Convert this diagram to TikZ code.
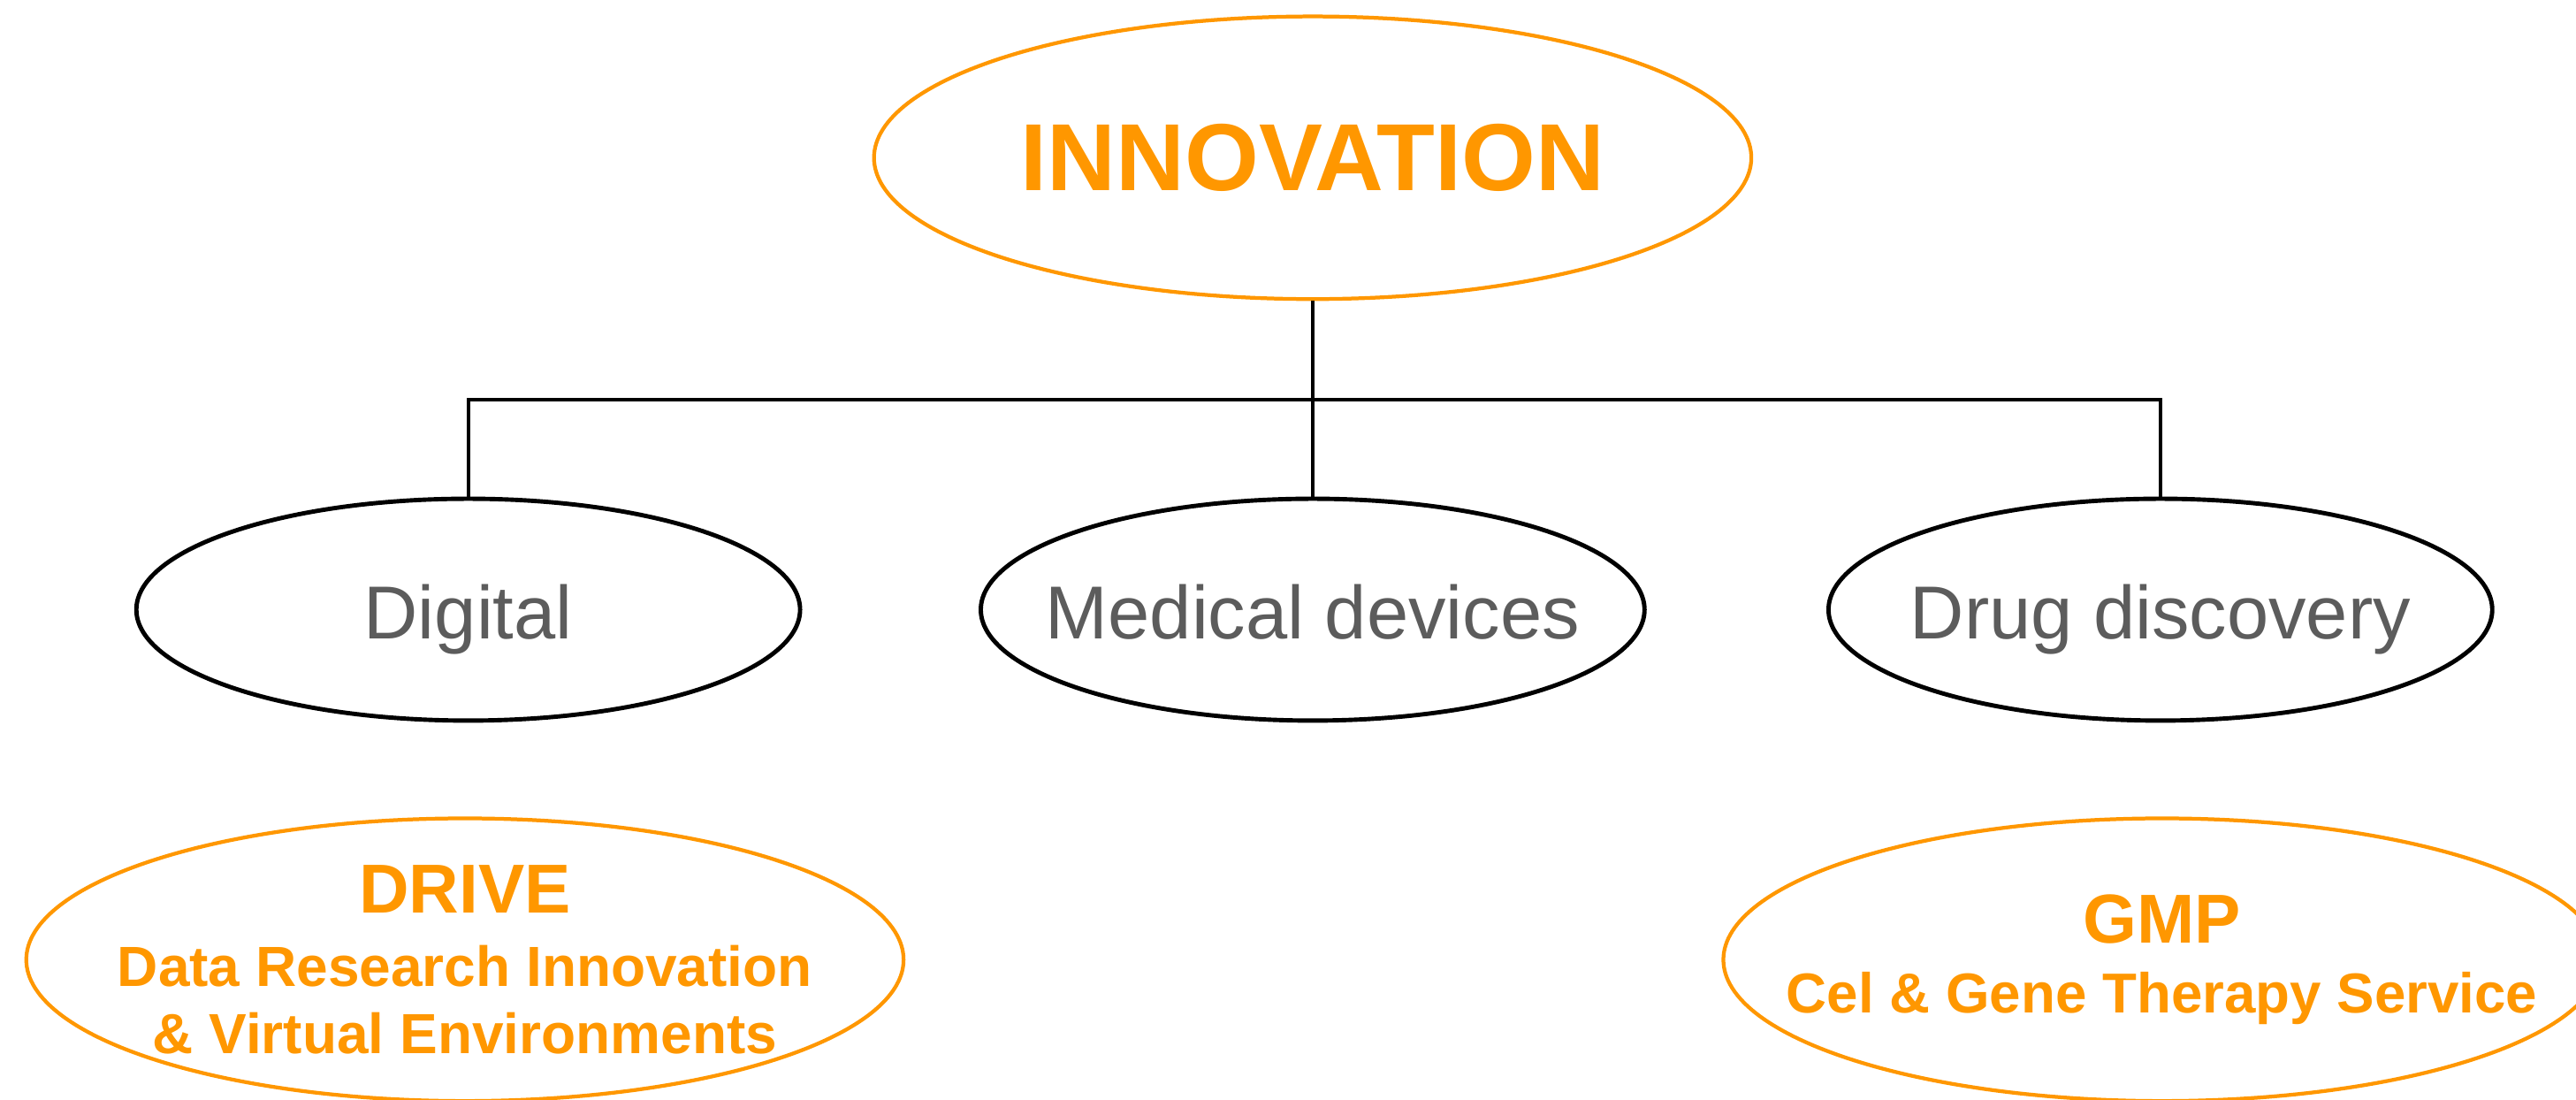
\documentclass[tikz,border=0pt]{standalone}
\usepackage{fontspec}
\setmainfont{Liberation Sans}
\usetikzlibrary{shapes.geometric}
\definecolor{innorange}{RGB}{255,151,0}
\definecolor{labelgray}{RGB}{92,92,92}
\begin{document}
\begin{tikzpicture}[
      big/.style={ellipse,draw=innorange,line width=1.3pt,minimum width=10.68cm,
        minimum height=3.44cm,inner sep=0pt},
      area/.style={ellipse,draw=black,line width=1.5pt,minimum width=8.08cm,
        minimum height=2.70cm,inner sep=0pt},
      bigtext/.style={text=innorange,align=center,inner sep=0pt,
        font=\bfseries\fontsize{19.6}{23.2}\selectfont},
      areatext/.style={text=labelgray,inner sep=0pt,text height=0.9em,text depth=0pt,
        yshift=-0.2cm,font=\fontsize{26}{30}\selectfont},
      link/.style={line width=1.3pt},
    ]
    \useasboundingbox (0,0) rectangle (31.36,13.38);
    \node[big,label={[bigtext,font=\bfseries\fontsize{33}{38}\selectfont]center:INNOVATION}]
      (innov) at (15.98,11.46) {};
    \node[area,label={[areatext]center:Digital}] (digital) at (5.70,5.96) {};
    \node[area,label={[areatext]center:Medical devices}] (meddev) at (15.98,5.96) {};
    \node[area,label={[areatext]center:Drug discovery}] (drug) at (26.30,5.96) {};
    \draw[link] (innov.south) -- ++(0,-1.2) -| (digital.north);
    \draw[link] (innov.south) -- ++(0,-1.2) -| (drug.north);
    \draw[link] (innov.south) -- (meddev.north);
    \node[big,label={[bigtext]center:{\fontsize{24}{24}\selectfont DRIVE}\\[2.4pt]
      Data Research Innovation\\\& Virtual Environments}] (drive) at (5.66,1.70) {};
    \node[big,label={[bigtext,font=\bfseries\fontsize{19.5}{24}\selectfont]center:{\fontsize{24}{24}\selectfont GMP}\\
      Cel \& Gene Therapy Service}] (gmp) at (26.32,1.70) {};
\end{tikzpicture}
\end{document}
